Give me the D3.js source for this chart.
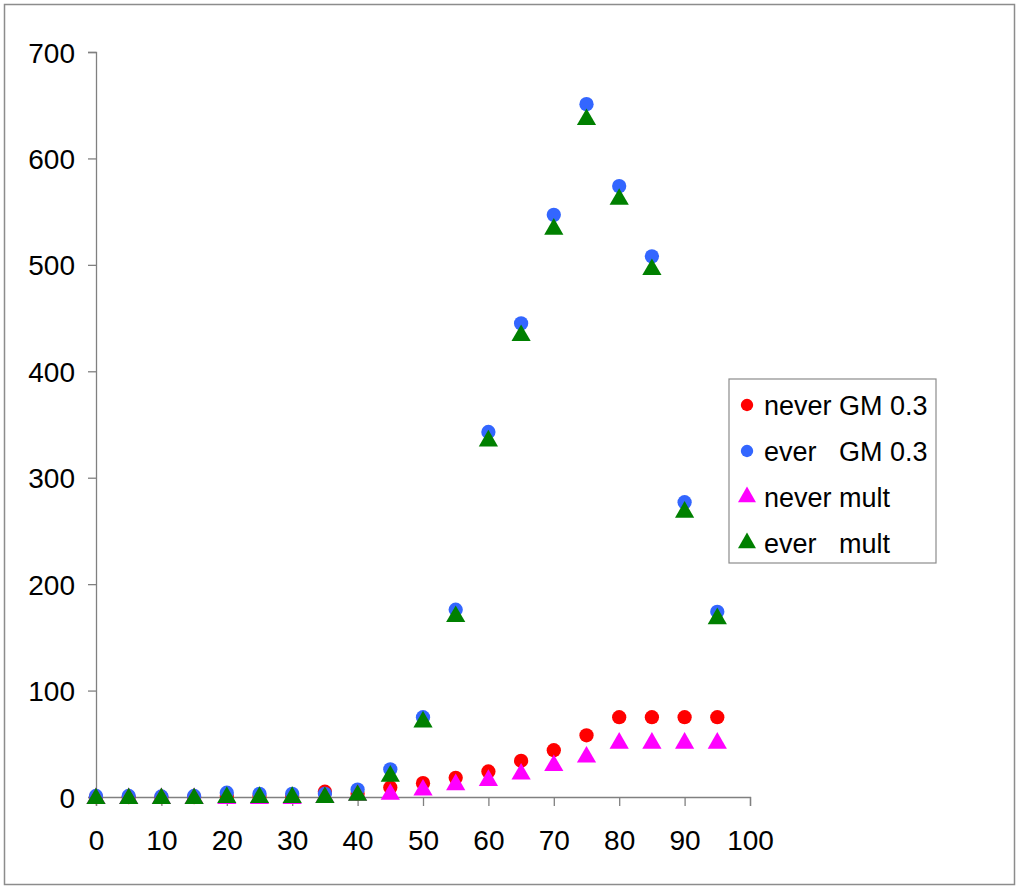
<!DOCTYPE html>
<html lang="en">
<head>
<meta charset="UTF-8">
<script src="https://cdnjs.cloudflare.com/ajax/libs/d3/7.8.5/d3.min.js"></script>
<style>
    body { margin: 0; background: #fff; }
    text { font-family: "Liberation Sans", Arial, sans-serif; fill: #000; }
</style>
</head>
<body>
<svg id="chart" width="1024" height="895"></svg>
<script>
    // data
    var ages = [0, 5, 10, 15, 20, 25, 30, 35, 40, 45, 50, 55, 60, 65, 70, 75, 80, 85, 90, 95];
    var neverGM = [0, 0, 0, 0, 1, 1, 1, 5, 3, 9, 13, 18, 24, 34, 44, 58, 75, 75, 75, 75];
    var everGM = [1, 1, 0.5, 1, 4, 3, 3, 3, 7, 26, 75, 176, 343, 445, 547, 651, 574, 508, 277, 174];
    var neverMult = [0, 0, 0, 0, 0, 0, 0, 1, 3, 4, 8, 13, 17, 23, 31, 39, 52, 52, 52, 52];
    var everMult = [0, 0, 0, 0, 1, 1, 1, 1, 3, 21, 72, 171, 336, 435, 535, 638, 563, 497, 269, 169];
    var xTicks = [0, 10, 20, 30, 40, 50, 60, 70, 80, 90, 100];
    var yTicks = [0, 100, 200, 300, 400, 500, 600, 700];

    var series = [
        { name: 'never GM 0.3', values: neverGM, color: '#ff0000', shape: 'circle' },
        { name: 'ever   GM 0.3', values: everGM, color: '#3366ff', shape: 'circle' },
        { name: 'never mult', values: neverMult, color: '#ff00ff', shape: 'triangle' },
        { name: 'ever   mult', values: everMult, color: '#008000', shape: 'triangle' }
    ];

    var svg = d3.select('#chart');

    // outer frame
    svg.append('rect')
        .attr('x', 4.5).attr('y', 4.5)
        .attr('width', 1010).attr('height', 880)
        .attr('fill', 'none')
        .attr('stroke', '#8c8c8c')
        .attr('stroke-width', 1.5);

    var x = d3.scaleLinear().domain([0, 100]).range([96, 750]);
    var y = d3.scaleLinear().domain([0, 700]).range([797, 52]);

    var yAxis = svg.append('g')
        .attr('transform', 'translate(96,0)')
        .call(d3.axisLeft(y).tickValues(yTicks).tickSize(8).tickPadding(13).tickFormat(d3.format('d')));
    var xAxis = svg.append('g')
        .attr('transform', 'translate(0,797)')
        .call(d3.axisBottom(x).tickValues(xTicks).tickSize(9).tickPadding(24).tickFormat(d3.format('d')));

    [yAxis, xAxis].forEach(function (ax) {
        ax.select('.domain').attr('stroke', '#808080').attr('stroke-width', 1.3);
        ax.selectAll('.tick line').attr('stroke', '#808080').attr('stroke-width', 1.3);
        ax.selectAll('.tick text')
            .attr('font-size', '28px')
            .attr('font-family', '"Liberation Sans", Arial, sans-serif')
            .attr('fill', '#000');
    });
    yAxis.selectAll('.tick text').attr('dy', '0.36em');
    xAxis.selectAll('.tick text').attr('dy', '0').attr('y', 850 - 797);

    var circle = d3.symbol().type(d3.symbolCircle).size(160);
    var tri = d3.symbol().type(d3.symbolTriangle).size(160);

    function shapeFor(s) {
        return s.shape === 'circle' ? circle() : tri();
    }

    series.forEach(function (s) {
        svg.append('g').selectAll('path')
            .data(s.values)
            .enter().append('path')
            .attr('d', shapeFor(s))
            .attr('transform', function (d, i) {
                var dy = s.shape === 'triangle' ? 1.5 : 0;
                return 'translate(' + x(ages[i]) + ',' + (y(d) + dy) + ')';
            })
            .attr('fill', s.color);
    });

    // legend
    var legend = svg.append('g').attr('transform', 'translate(729,379)');
    legend.append('rect')
        .attr('width', 207).attr('height', 184)
        .attr('fill', '#fff')
        .attr('stroke', '#8c8c8c')
        .attr('stroke-width', 1.2);

    var item = legend.selectAll('.item')
        .data(series)
        .enter().append('g')
        .attr('class', 'item')
        .attr('transform', function (d, i) { return 'translate(0,' + (26 + i * 46) + ')'; });
    item.append('path')
        .attr('d', function (d) {
            return d.shape === 'circle'
                ? d3.symbol().type(d3.symbolCircle).size(120)()
                : d3.symbol().type(d3.symbolTriangle).size(140)();
        })
        .attr('transform', 'translate(18,0)')
        .attr('fill', function (d) { return d.color; });
    item.append('text')
        .attr('x', 35)
        .attr('dy', '0.36em')
        .attr('font-size', '27px')
        .style('white-space', 'pre')
        .text(function (d) { return d.name; });
</script>
</body>
</html>
